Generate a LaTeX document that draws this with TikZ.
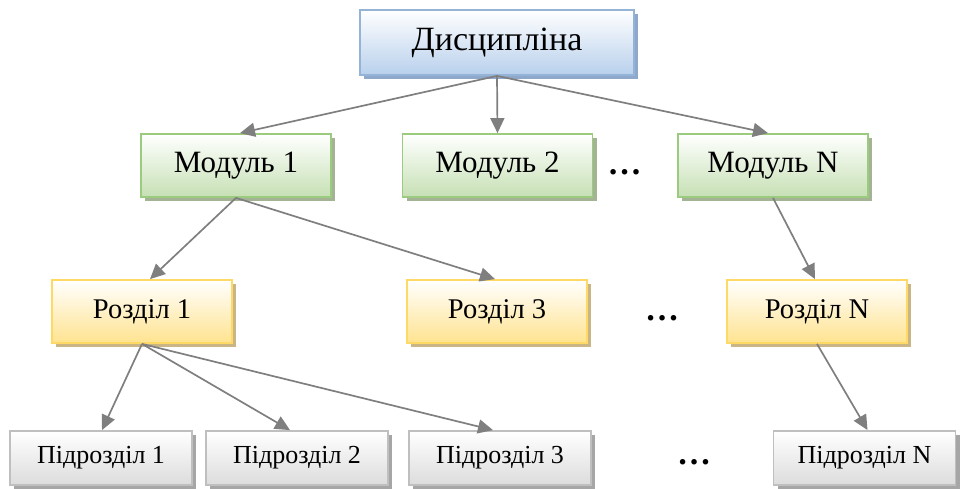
\documentclass[tikz,border=0pt]{standalone}
\usepackage{fontspec}
\setmainfont{Liberation Serif}
\usetikzlibrary{shadows,arrows.meta}

\definecolor{arrowgray}{HTML}{7F7F7F}
\definecolor{blueedge}{HTML}{95B3D7}
\definecolor{bluefill}{HTML}{B8D0EC}
\definecolor{blueshadow}{HTML}{8EA8CC}
\definecolor{greenedge}{HTML}{9BCB7E}
\definecolor{greenfill}{HTML}{C6E0B4}
\definecolor{greenshadow}{HTML}{A3B394}
\definecolor{goldedge}{HTML}{FFD966}
\definecolor{goldfill}{HTML}{FFE38F}
\definecolor{goldshadow}{HTML}{C9B684}
\definecolor{grayedge}{HTML}{BFBFBF}
\definecolor{grayfill}{HTML}{DCDCDC}
\definecolor{grayshadow}{HTML}{A6A6A6}

\tikzset{
  box/.style={draw, line width=1.8pt, inner sep=0pt, align=center,
    top color=white},
  disbox/.style={box, draw=blueedge, bottom color=bluefill,
    minimum width=274pt, minimum height=65pt,
    drop shadow={shadow xshift=4pt, shadow yshift=-4pt, fill=blueshadow, opacity=1},
    font=\fontsize{34}{40}\selectfont},
  modbox/.style={box, draw=greenedge, bottom color=greenfill,
    minimum width=190pt, minimum height=63pt,
    drop shadow={shadow xshift=4pt, shadow yshift=-4pt, fill=greenshadow, opacity=1},
    font=\fontsize{31}{36}\selectfont},
  secbox/.style={box, draw=goldedge, bottom color=goldfill,
    minimum width=180pt, minimum height=63pt,
    drop shadow={shadow xshift=4pt, shadow yshift=-4pt, fill=goldshadow, opacity=1},
    font=\fontsize{28.5}{33}\selectfont},
  subbox/.style={box, draw=grayedge, bottom color=grayfill,
    minimum width=182pt, minimum height=54pt,
    drop shadow={shadow xshift=4pt, shadow yshift=-4pt, fill=grayshadow, opacity=1},
    font=\fontsize{26}{30}\selectfont},
  dots/.style={inner sep=0pt, font=\fontsize{34}{38}\selectfont\bfseries},
  link/.style={draw=arrowgray, line width=1.7pt,
    -{Triangle[length=15pt, width=14pt, fill=arrowgray]}},
}

\begin{document}
\begin{tikzpicture}[x=1pt, y=-1pt]
  \useasboundingbox (0,0) rectangle (961,488);

  % discipline
  \node[disbox] (dis) at (497,42.5) {Дисципліна};

  % modules
  \node[modbox] (m1) at (236,165.5) {Модуль 1};
  \node[modbox] (m2) at (497.5,165.5) {Модуль 2};
  \node[modbox] (mN) at (773,165.5) {Модуль N};
  \node[dots] (d1) at (624.5,172) {…};

  % sections
  \node[secbox] (r1) at (142,311.5) {Розділ 1};
  \node[secbox] (r3) at (497,311.5) {Розділ 3};
  \node[secbox] (rN) at (817,311.5) {Розділ N};
  \node[dots] (d2) at (662,318) {…};

  % subsections
  \node[subbox] (p1) at (101,458) {Підрозділ 1};
  \node[subbox] (p2) at (297,458) {Підрозділ 2};
  \node[subbox] (p3) at (500,458) {Підрозділ 3};
  \node[subbox] (pN) at (864.5,458) {Підрозділ N};
  \node[dots] (d3) at (694,462) {…};

  % connectors
  \draw[link] (dis.south) -- ([xshift=4pt]m1.north);
  \draw[link] (dis.south) -- (m2.north);
  \draw[link] (dis.south) -- ([xshift=-5pt]mN.north);
  \draw[link] (m1.south) -- ([xshift=8pt]r1.north);
  \draw[link] (m1.south) -- ([xshift=-2pt]r3.north);
  \draw[link] (mN.south) -- ([xshift=-2pt]rN.north);
  \draw[link] (r1.south) -- ([xshift=1pt]p1.north);
  \draw[link] (r1.south) -- ([xshift=-7pt]p2.north);
  \draw[link] (r1.south) -- ([xshift=-7pt]p3.north);
  \draw[link] (rN.south) -- ([xshift=3pt]pN.north);
\end{tikzpicture}
\end{document}
